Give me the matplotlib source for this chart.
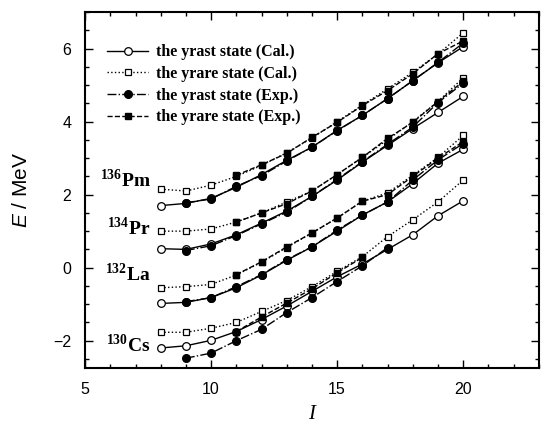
import numpy as np
import matplotlib
matplotlib.use("Agg")
import matplotlib.pyplot as plt
from matplotlib.ticker import MultipleLocator

# Spin values
spin = np.arange(8, 21)

# ---- data (E in MeV); nan = no point ----
nan = np.nan
label_sup = ["130", "132", "134", "136"]
label_sym = ["Cs", "La", "Pr", "Pm"]
label_y = [-2.1, -0.14, 1.12, 2.42]

yrast_cal = {
    "Cs": [-2.20, -2.14, -1.99, -1.75, -1.42, -1.05, -0.65, -0.25, 0.10, 0.50, 0.90, 1.42, 1.83],
    "La": [-0.98, -0.95, -0.82, -0.55, -0.20, 0.20, 0.57, 1.00, 1.44, 1.80, 2.30, 2.86, 3.24],
    "Pr": [0.52, 0.50, 0.65, 0.90, 1.22, 1.55, 1.95, 2.40, 2.89, 3.35, 3.81, 4.25, 4.69],
    "Pm": [1.70, 1.76, 1.90, 2.20, 2.55, 2.94, 3.30, 3.76, 4.17, 4.63, 5.12, 5.61, 6.05],
}
yrare_cal = {
    "Cs": [-1.77, -1.77, -1.66, -1.50, -1.20, -0.90, -0.52, -0.10, 0.30, 0.85, 1.31, 1.80, 2.40],
    "La": [-0.55, -0.52, -0.46, -0.20, 0.15, 0.55, 0.95, 1.36, 1.82, 2.05, 2.53, 3.02, 3.62],
    "Pr": [1.00, 1.00, 1.06, 1.25, 1.50, 1.80, 2.10, 2.55, 3.02, 3.50, 4.00, 4.55, 5.20],
    "Pm": [2.15, 2.10, 2.26, 2.50, 2.80, 3.15, 3.55, 4.00, 4.45, 4.90, 5.35, 5.85, 6.43],
}
yrast_exp = {
    "Cs": [nan, -2.48, -2.34, -2.00, -1.69, -1.23, -0.82, -0.38, 0.05, 0.55, nan, nan, nan],
    "La": [nan, -0.93, -0.82, -0.52, -0.19, 0.22, 0.57, 1.03, 1.44, 1.80, 2.40, 2.95, 3.40],
    "Pr": [nan, 0.47, 0.60, 0.88, 1.20, 1.52, 1.95, 2.42, 2.90, 3.38, 3.85, 4.52, 5.05],
    "Pm": [nan, 1.78, 1.88, 2.23, 2.52, 2.92, 3.30, 3.75, 4.17, 4.63, 5.12, 5.62, 6.15],
}
yrare_exp = {
    "Cs": [nan, nan, nan, -1.75, -1.35, -0.97, -0.58, -0.14, 0.28, nan, nan, nan, nan],
    "La": [nan, nan, nan, -0.19, 0.16, 0.57, 0.95, 1.36, 1.82, 2.00, 2.50, 3.00, 3.45],
    "Pr": [nan, nan, nan, 1.25, 1.50, 1.75, 2.10, 2.55, 3.02, 3.54, 3.98, 4.55, 5.10],
    "Pm": [nan, nan, nan, 2.53, 2.82, 3.13, 3.57, 3.98, 4.44, 4.85, 5.31, 5.86, 6.21],
}

legend_labels = [
    "the yrast state (Cal.)",
    "the yrare state (Cal.)",
    "the yrast state (Exp.)",
    "the yrare state (Exp.)",
]

plt.rcParams["font.family"] = "Liberation Sans"
plt.rcParams["mathtext.fontset"] = "custom"
plt.rcParams["mathtext.rm"] = "Liberation Serif"
plt.rcParams["mathtext.bf"] = "Liberation Serif:bold"
plt.rcParams["mathtext.it"] = "Liberation Sans:italic"

fig = plt.figure(figsize=(5.42, 4.32), dpi=100)
ax = fig.add_axes([0.157, 0.148, 0.837, 0.824])

ms = 5.5
for i, sym in enumerate(label_sym):
    first = i == 0
    ax.plot(spin, yrast_cal[sym], "-", color="k", lw=1.0, marker="o", ms=ms,
            mfc="white", mec="k", mew=0.9, label=legend_labels[0] if first else None)
    ax.plot(spin, yrare_cal[sym], ":", color="k", lw=1.0, marker="s", ms=ms - 0.5,
            mfc="white", mec="k", mew=0.9, label=legend_labels[1] if first else None)
    ax.plot(spin, yrast_exp[sym], "-.", color="k", lw=1.0, marker="o", ms=ms,
            mfc="k", mec="k", label=legend_labels[2] if first else None)
    ax.plot(spin, yrare_exp[sym], "--", color="k", lw=1.0, marker="s", ms=ms - 0.5,
            mfc="k", mec="k", label=legend_labels[3] if first else None)
    ax.text(7.6, label_y[i], r"$^{\mathbf{%s}}$%s" % (label_sup[i], sym),
            family="Liberation Serif", fontweight="bold", fontsize=14,
            ha="right", va="center")

ax.legend(loc="upper left", frameon=False,
          prop={"family": "Liberation Serif", "weight": "bold", "size": 11.5},
          handlelength=2.6, handletextpad=0.5, labelspacing=0.35,
          borderaxespad=0.4, bbox_to_anchor=(0.02, 0.945))

ax.set_xlim(5, 23)
ax.set_ylim(-2.75, 7)
ax.xaxis.set_major_locator(MultipleLocator(5))
ax.xaxis.set_minor_locator(MultipleLocator(1))
ax.yaxis.set_major_locator(MultipleLocator(2))
ax.yaxis.set_minor_locator(MultipleLocator(0.5))
ax.tick_params(which="both", direction="in", top=True, right=True, labelsize=11.5, width=1.0)
ax.tick_params(which="major", length=6)
ax.tick_params(which="minor", length=3)
ax.tick_params(axis="y", pad=10)
ax.tick_params(axis="x", pad=10)
for sp in ax.spines.values():
    sp.set_linewidth(1.5)

ax.set_xlabel("I", family="Liberation Serif", style="italic", fontsize=15, labelpad=6)
ax.set_ylabel(r"$\mathit{E}$ / MeV", fontsize=15, labelpad=16)

fig.savefig("out.png", dpi=100)
